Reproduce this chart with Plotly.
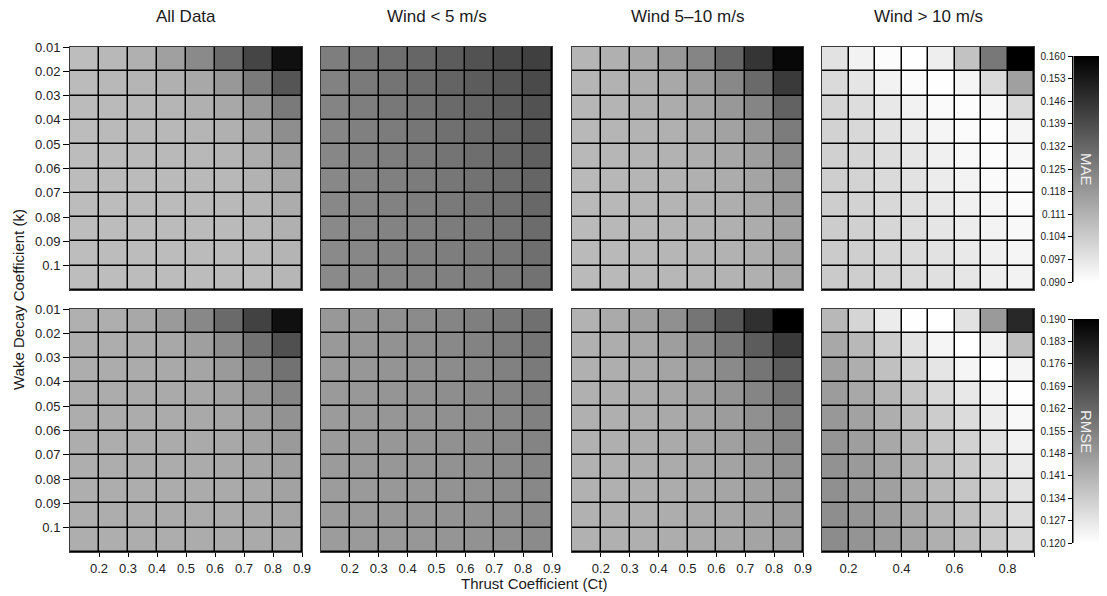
import plotly.graph_objects as go

# ---- data ----
CT_EDGES = [0.1, 0.2, 0.3, 0.4, 0.5, 0.6, 0.7, 0.8, 0.9]
K_EDGES = [0.01, 0.02, 0.03, 0.04, 0.05, 0.06, 0.07, 0.08, 0.09, 0.10, 0.11]
CT_TICKS = [0.2, 0.3, 0.4, 0.5, 0.6, 0.7, 0.8, 0.9]
CT_TICK_LABELS = ["0.2", "0.3", "0.4", "0.5", "0.6", "0.7", "0.8", "0.9"]
CT_TICKS_NARROW = [0.2, 0.4, 0.6, 0.8]
CT_LABELS_NARROW = ["0.2", "0.4", "0.6", "0.8"]
K_TICKS = [0.01, 0.02, 0.03, 0.04, 0.05, 0.06, 0.07, 0.08, 0.09, 0.10]
K_TICK_LABELS = ["0.01", "0.02", "0.03", "0.04", "0.05", "0.06", "0.07", "0.08", "0.09", "0.1"]
PANEL_TITLES = ["All Data", "Wind < 5 m/s", "Wind 5\u201310 m/s", "Wind > 10 m/s"]

MAE_TICKS = [0.090, 0.097, 0.104, 0.111, 0.118, 0.125, 0.132, 0.139, 0.146, 0.153, 0.160]
RMSE_TICKS = [0.120, 0.127, 0.134, 0.141, 0.148, 0.155, 0.162, 0.169, 0.176, 0.183, 0.190]

MAE_ALL = [
    [0.1081, 0.1095, 0.1117, 0.1161, 0.1221, 0.1309, 0.1411, 0.1556],
    [0.1087, 0.1095, 0.1103, 0.1117, 0.1139, 0.1183, 0.1265, 0.1367],
    [0.1087, 0.1089, 0.1095, 0.1103, 0.1117, 0.1139, 0.1183, 0.1265],
    [0.1084, 0.1089, 0.1092, 0.1095, 0.1103, 0.1117, 0.1147, 0.1210],
    [0.1084, 0.1087, 0.1089, 0.1092, 0.1095, 0.1103, 0.1125, 0.1166],
    [0.1084, 0.1087, 0.1087, 0.1089, 0.1092, 0.1095, 0.1111, 0.1144],
    [0.1084, 0.1084, 0.1087, 0.1087, 0.1089, 0.1092, 0.1100, 0.1128],
    [0.1081, 0.1084, 0.1084, 0.1087, 0.1087, 0.1089, 0.1095, 0.1117],
    [0.1081, 0.1084, 0.1084, 0.1084, 0.1087, 0.1087, 0.1089, 0.1106],
    [0.1081, 0.1081, 0.1084, 0.1084, 0.1084, 0.1087, 0.1087, 0.1100],
]
MAE_LOW = [
    [0.1254, 0.1279, 0.1298, 0.1320, 0.1347, 0.1375, 0.1402, 0.1424],
    [0.1243, 0.1265, 0.1282, 0.1304, 0.1325, 0.1347, 0.1367, 0.1397],
    [0.1238, 0.1254, 0.1271, 0.1287, 0.1309, 0.1325, 0.1347, 0.1375],
    [0.1232, 0.1249, 0.1260, 0.1276, 0.1293, 0.1309, 0.1325, 0.1353],
    [0.1229, 0.1243, 0.1254, 0.1265, 0.1282, 0.1298, 0.1315, 0.1336],
    [0.1227, 0.1238, 0.1249, 0.1260, 0.1273, 0.1287, 0.1304, 0.1323],
    [0.1227, 0.1235, 0.1243, 0.1254, 0.1265, 0.1279, 0.1293, 0.1315],
    [0.1224, 0.1232, 0.1240, 0.1249, 0.1260, 0.1271, 0.1284, 0.1304],
    [0.1221, 0.1229, 0.1238, 0.1246, 0.1254, 0.1265, 0.1276, 0.1295],
    [0.1221, 0.1227, 0.1235, 0.1243, 0.1249, 0.1260, 0.1271, 0.1287],
]
MAE_MID = [
    [0.1103, 0.1117, 0.1139, 0.1183, 0.1235, 0.1323, 0.1455, 0.1578],
    [0.1103, 0.1111, 0.1122, 0.1139, 0.1172, 0.1227, 0.1309, 0.1441],
    [0.1100, 0.1106, 0.1117, 0.1128, 0.1147, 0.1183, 0.1235, 0.1331],
    [0.1095, 0.1103, 0.1109, 0.1117, 0.1133, 0.1155, 0.1191, 0.1260],
    [0.1095, 0.1100, 0.1106, 0.1111, 0.1122, 0.1139, 0.1166, 0.1221],
    [0.1092, 0.1098, 0.1103, 0.1109, 0.1117, 0.1128, 0.1150, 0.1191],
    [0.1092, 0.1095, 0.1100, 0.1106, 0.1111, 0.1122, 0.1139, 0.1172],
    [0.1089, 0.1095, 0.1098, 0.1103, 0.1109, 0.1117, 0.1128, 0.1155],
    [0.1089, 0.1092, 0.1095, 0.1100, 0.1106, 0.1111, 0.1122, 0.1144],
    [0.1089, 0.1092, 0.1095, 0.1098, 0.1103, 0.1109, 0.1117, 0.1136],
]
MAE_HIGH = [
    [0.0980, 0.0936, 0.0908, 0.0900, 0.0947, 0.1067, 0.1271, 0.1600],
    [0.1002, 0.0971, 0.0936, 0.0911, 0.0903, 0.0927, 0.1002, 0.1161],
    [0.1015, 0.0993, 0.0963, 0.0936, 0.0914, 0.0905, 0.0919, 0.1002],
    [0.1024, 0.1007, 0.0980, 0.0952, 0.0927, 0.0911, 0.0905, 0.0927],
    [0.1029, 0.1015, 0.0993, 0.0969, 0.0941, 0.0919, 0.0908, 0.0919],
    [0.1035, 0.1021, 0.1002, 0.0980, 0.0952, 0.0933, 0.0914, 0.0914],
    [0.1037, 0.1024, 0.1007, 0.0988, 0.0963, 0.0941, 0.0925, 0.0911],
    [0.1040, 0.1029, 0.1013, 0.0993, 0.0971, 0.0952, 0.0933, 0.0919],
    [0.1043, 0.1032, 0.1015, 0.0999, 0.0980, 0.0960, 0.0941, 0.0927],
    [0.1046, 0.1035, 0.1021, 0.1004, 0.0985, 0.0969, 0.0947, 0.0936],
]

RMSE_ALL = [
    [0.1417, 0.1422, 0.1439, 0.1477, 0.1527, 0.1609, 0.1719, 0.1856],
    [0.1422, 0.1425, 0.1431, 0.1439, 0.1464, 0.1510, 0.1587, 0.1680],
    [0.1425, 0.1428, 0.1431, 0.1436, 0.1447, 0.1477, 0.1527, 0.1587],
    [0.1425, 0.1428, 0.1431, 0.1433, 0.1439, 0.1455, 0.1488, 0.1535],
    [0.1425, 0.1428, 0.1428, 0.1431, 0.1436, 0.1444, 0.1466, 0.1499],
    [0.1425, 0.1425, 0.1428, 0.1431, 0.1433, 0.1439, 0.1453, 0.1477],
    [0.1422, 0.1425, 0.1428, 0.1428, 0.1431, 0.1436, 0.1444, 0.1464],
    [0.1422, 0.1425, 0.1425, 0.1428, 0.1431, 0.1433, 0.1439, 0.1455],
    [0.1422, 0.1425, 0.1425, 0.1428, 0.1428, 0.1431, 0.1436, 0.1447],
    [0.1422, 0.1422, 0.1425, 0.1425, 0.1428, 0.1431, 0.1433, 0.1442],
]
RMSE_LOW = [
    [0.1483, 0.1494, 0.1505, 0.1518, 0.1535, 0.1551, 0.1571, 0.1593],
    [0.1480, 0.1488, 0.1499, 0.1510, 0.1524, 0.1540, 0.1557, 0.1579],
    [0.1477, 0.1485, 0.1494, 0.1505, 0.1516, 0.1529, 0.1546, 0.1565],
    [0.1477, 0.1483, 0.1491, 0.1499, 0.1510, 0.1524, 0.1538, 0.1554],
    [0.1475, 0.1483, 0.1488, 0.1496, 0.1505, 0.1518, 0.1529, 0.1546],
    [0.1475, 0.1480, 0.1485, 0.1494, 0.1502, 0.1513, 0.1524, 0.1538],
    [0.1475, 0.1480, 0.1485, 0.1491, 0.1499, 0.1507, 0.1518, 0.1532],
    [0.1472, 0.1477, 0.1483, 0.1488, 0.1496, 0.1505, 0.1516, 0.1527],
    [0.1472, 0.1477, 0.1483, 0.1488, 0.1494, 0.1502, 0.1510, 0.1521],
    [0.1472, 0.1477, 0.1480, 0.1485, 0.1491, 0.1499, 0.1507, 0.1518],
]
RMSE_MID = [
    [0.1411, 0.1433, 0.1461, 0.1505, 0.1579, 0.1667, 0.1768, 0.1900],
    [0.1417, 0.1425, 0.1439, 0.1466, 0.1510, 0.1571, 0.1647, 0.1741],
    [0.1417, 0.1422, 0.1433, 0.1450, 0.1477, 0.1521, 0.1579, 0.1647],
    [0.1417, 0.1422, 0.1428, 0.1442, 0.1461, 0.1491, 0.1535, 0.1587],
    [0.1417, 0.1420, 0.1425, 0.1436, 0.1450, 0.1472, 0.1505, 0.1549],
    [0.1414, 0.1420, 0.1425, 0.1433, 0.1444, 0.1461, 0.1488, 0.1521],
    [0.1414, 0.1417, 0.1422, 0.1431, 0.1439, 0.1453, 0.1472, 0.1499],
    [0.1414, 0.1417, 0.1422, 0.1428, 0.1436, 0.1447, 0.1464, 0.1485],
    [0.1414, 0.1417, 0.1420, 0.1425, 0.1433, 0.1442, 0.1455, 0.1475],
    [0.1414, 0.1417, 0.1420, 0.1425, 0.1431, 0.1439, 0.1450, 0.1466],
]
RMSE_HIGH = [
    [0.1395, 0.1315, 0.1252, 0.1203, 0.1200, 0.1280, 0.1477, 0.1790],
    [0.1439, 0.1395, 0.1340, 0.1280, 0.1227, 0.1200, 0.1236, 0.1378],
    [0.1461, 0.1422, 0.1373, 0.1324, 0.1271, 0.1227, 0.1203, 0.1227],
    [0.1472, 0.1439, 0.1403, 0.1359, 0.1307, 0.1263, 0.1227, 0.1203],
    [0.1483, 0.1455, 0.1422, 0.1384, 0.1340, 0.1296, 0.1252, 0.1219],
    [0.1491, 0.1466, 0.1439, 0.1403, 0.1362, 0.1324, 0.1280, 0.1236],
    [0.1499, 0.1477, 0.1450, 0.1417, 0.1378, 0.1346, 0.1307, 0.1258],
    [0.1505, 0.1483, 0.1461, 0.1428, 0.1395, 0.1359, 0.1324, 0.1280],
    [0.1510, 0.1488, 0.1466, 0.1439, 0.1406, 0.1373, 0.1337, 0.1296],
    [0.1516, 0.1494, 0.1472, 0.1447, 0.1420, 0.1387, 0.1351, 0.1315],
]

MAE_SETS = [MAE_ALL, MAE_LOW, MAE_MID, MAE_HIGH]
RMSE_SETS = [RMSE_ALL, RMSE_LOW, RMSE_MID, RMSE_HIGH]

# ---- layout geometry (screen pixels; page body has an 8px margin) ----
OFF = 8
FW, FH = 1107 - OFF, 596 - OFF
FONT = "Liberation Sans, Arial, Helvetica, sans-serif"
X_DOM_PX = [(70, 302), (321, 552), (572, 803), (822, 1034)]
Y_DOM_PX = [(47, 290), (309, 552)]
CB_X = 1074
CB_W = 26
CB_Y_PX = [(56, 282), (319, 543)]
GRAY = [[0, "#ffffff"], [1, "#000000"]]


def px(sx):
    return (sx - OFF) / FW


def py(sy):
    return 1 - (sy - OFF) / FH


def xd(a, b):
    return [px(a), px(b)]


def yd(top, bottom):
    return [py(bottom), py(top)]


fig = go.Figure()
layout = dict(
    width=FW, height=FH,
    margin=dict(l=0, r=0, t=0, b=0, pad=0, autoexpand=False),
    paper_bgcolor="white",
    plot_bgcolor="black",
    font=dict(family=FONT, color="black"),
    showlegend=False,
    annotations=[],
)

for r, (sets, cax) in enumerate([(MAE_SETS, "coloraxis"), (RMSE_SETS, "coloraxis2")]):
    for c in range(4):
        i = r * 4 + c + 1
        xs = "x" if i == 1 else f"x{i}"
        ys = "y" if i == 1 else f"y{i}"
        fig.add_trace(go.Heatmap(
            z=sets[c], x=CT_EDGES, y=K_EDGES, coloraxis=cax,
            xgap=1.5, ygap=1.5, xaxis=xs, yaxis=ys,
            hovertemplate="Ct %{x}<br>k %{y}<br>%{z:.4f}<extra></extra>",
        ))
        xa = dict(
            domain=xd(*X_DOM_PX[c]), anchor=ys, range=[0.1, 0.9], automargin=False,
            showgrid=False, zeroline=False, showline=True, mirror=True,
            linecolor="#3a3a3a", linewidth=1,
            tickfont=dict(size=13, color="#222"),
        )
        if r == 1:
            if c < 3:
                xa.update(tickmode="array", tickvals=CT_TICKS, ticktext=CT_TICK_LABELS,
                          ticks="outside", ticklen=4, tickcolor="black")
            else:
                xa.update(tickmode="array", tickvals=CT_TICKS_NARROW, ticktext=CT_LABELS_NARROW,
                          ticks="outside", ticklen=4, tickcolor="black",
                          minor=dict(tickmode="array", tickvals=CT_TICKS, ticks="outside",
                                     ticklen=4, tickcolor="black"))
        else:
            xa.update(showticklabels=False, ticks="")
        ya = dict(
            domain=yd(*Y_DOM_PX[r]), anchor=xs, range=[0.11, 0.01], automargin=False,
            showgrid=False, zeroline=False, showline=True, mirror=True,
            linecolor="#3a3a3a", linewidth=1,
            tickfont=dict(size=13, color="#222"),
        )
        if c == 0:
            ya.update(tickmode="array", tickvals=K_TICKS, ticktext=K_TICK_LABELS,
                      ticks="outside", ticklen=6, tickcolor="black")
        else:
            ya.update(showticklabels=False, ticks="")
        layout["xaxis" if i == 1 else f"xaxis{i}"] = xa
        layout["yaxis" if i == 1 else f"yaxis{i}"] = ya

# colour axes
for r, (name, lo, hi) in enumerate([("coloraxis", MAE_TICKS[0], MAE_TICKS[-1]),
                                    ("coloraxis2", RMSE_TICKS[0], RMSE_TICKS[-1])]):
    top, bot = CB_Y_PX[r]
    layout[name] = dict(
        cmin=lo, cmax=hi, colorscale=GRAY,
        colorbar=dict(
            x=px(CB_X), xanchor="left", xpad=0, ypad=0,
            thickness=CB_W, thicknessmode="pixels",
            len=(bot - top) / FH, lenmode="fraction",
            y=py(top), yanchor="top",
            showticklabels=False, ticks="", outlinewidth=0,
        ),
    )

# tick axes for the colour bars (drawn on the left of each bar)
for j, (ticks, (top, bot)) in enumerate(zip([MAE_TICKS, RMSE_TICKS], CB_Y_PX)):
    n = 9 + j
    fig.add_trace(go.Scatter(x=[None], y=[None], xaxis=f"x{n}", yaxis=f"y{n}",
                             hoverinfo="skip", showlegend=False))
    layout[f"xaxis{n}"] = dict(domain=[px(CB_X - 1.5), px(CB_X - 0.5)], anchor=f"y{n}",
                              visible=False, range=[0, 1], automargin=False)
    layout[f"yaxis{n}"] = dict(
        domain=yd(top, bot), anchor=f"x{n}", side="left", automargin=False,
        range=[ticks[0], ticks[-1]], showgrid=False, zeroline=False,
        showline=True, linecolor="black", linewidth=1,
        tickmode="array", tickvals=ticks, ticktext=[f"{t:.3f}" for t in ticks],
        ticks="outside", ticklen=4, tickcolor="black",
        tickfont=dict(size=10, color="#222"),
    )

ann = layout["annotations"]
for c, t in enumerate(PANEL_TITLES):
    a, b = X_DOM_PX[c]
    ann.append(dict(text=t, x=px((a + b) / 2), y=py(16), xref="paper", yref="paper",
                    showarrow=False, xanchor="center", yanchor="middle",
                    font=dict(size=17, color="#1a1a1a")))
for j, (t, (top, bot)) in enumerate(zip(["MAE", "RMSE"], CB_Y_PX)):
    ann.append(dict(text=t, x=px(CB_X + CB_W / 2), y=py((top + bot) / 2),
                    xref="paper", yref="paper", showarrow=False, textangle=90,
                    xanchor="center", yanchor="middle",
                    font=dict(size=15, color="#eeeeee")))
ann.append(dict(text="Thrust Coefficient (Ct)", x=px(534), y=py(583), xref="paper", yref="paper",
                showarrow=False, xanchor="center", yanchor="middle",
                font=dict(size=15, color="#1a1a1a")))
ann.append(dict(text="Wake Decay Coefficient (k)", x=px(18), y=py(300), xref="paper", yref="paper",
                showarrow=False, textangle=-90, xanchor="center", yanchor="middle",
                font=dict(size=15, color="#1a1a1a")))

fig.update_layout(**layout)
fig.write_html("out.html")
